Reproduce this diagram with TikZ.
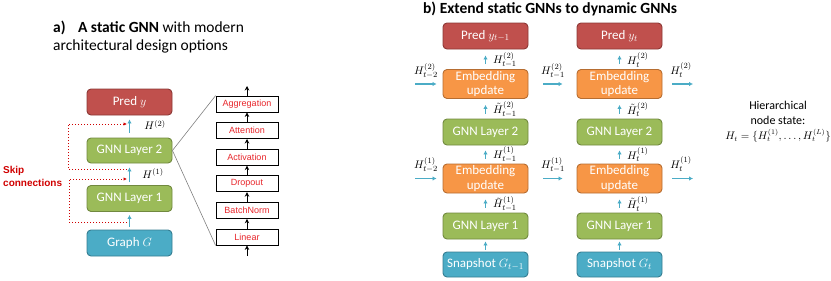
\documentclass[tikz,border=0pt]{standalone}
\usepackage{fontspec}
\setmainfont{Carlito}
\newfontfamily\arialfont{Liberation Sans}
\usetikzlibrary{arrows.meta,calc}
\definecolor{predred}{HTML}{C0504D}
\definecolor{predredd}{HTML}{8C3836}
\definecolor{ggreen}{HTML}{9BBB59}
\definecolor{ggreend}{HTML}{71893F}
\definecolor{oorange}{HTML}{F79646}
\definecolor{oorranged}{HTML}{B66D31}
\definecolor{tteal}{HTML}{4BACC6}
\definecolor{ttealed}{HTML}{357D91}
\definecolor{arrcyan}{HTML}{4BACC6}
\definecolor{skipred}{HTML}{D00000}
\definecolor{layred}{HTML}{E8262B}
\begin{document}
\begin{tikzpicture}[x=1pt,y=-1pt,
  box/.style={rounded corners=4pt, line width=0.9pt, minimum width=85pt, text=white,
    font=\fontsize{13}{14.5}\selectfont, inner sep=0pt, align=center},
  predbox/.style={box, fill=predred, draw=predredd, minimum height=26pt},
  greenbox/.style={box, fill=ggreen, draw=ggreend, minimum height=26pt},
  orangebox/.style={box, fill=oorange, draw=oorranged, minimum height=29pt},
  tealbox/.style={box, fill=tteal, draw=ttealed, minimum height=26pt},
  layerbox/.style={draw=black, line width=0.8pt, fill=white, minimum width=62pt, minimum height=16pt,
    inner sep=0pt, text=layred, font=\arialfont\fontsize{9}{10}\selectfont},
  cyanarr/.style={draw=arrcyan, line width=1.2pt, -{Latex[length=4pt,width=4.5pt]}},
  blkarr/.style={draw=black, line width=0.8pt, -{Stealth[length=4.5pt,width=4.5pt]}},
  skiparr/.style={draw=skipred, line width=1pt, dotted, -{Latex[length=3.5pt,width=3.5pt]}},
  lbl/.style={font=\fontsize{11}{12}\selectfont, inner sep=0pt},
  ttl/.style={font=\fontsize{15.5}{18}\selectfont, inner sep=0pt, anchor=base west},
]
\useasboundingbox (0,0) rectangle (831,281);

% ---------- titles ----------
\node[ttl] (titleA1) at (53,32) {\textbf{a)}\hspace{0.8em}\textbf{A static GNN} with modern};
\node[ttl] (titleA2) at (53,50) {architectural design options};
\node[ttl, anchor=base] (titleB) at (550,13) {\textbf{b) Extend static GNNs to dynamic GNNs}};

% ---------- panel a ----------
\node[predbox] (pred) at (129.5,102) {Pred $y$};
\node[greenbox, minimum height=25pt] (lgnn2) at (129.5,150.5) {GNN Layer 2};
\node[greenbox] (lgnn1) at (129.5,198.5) {GNN Layer 1};
\node[tealbox] (graph) at (129.5,243) {Graph $G$};

\draw[cyanarr, shorten <=5pt, shorten >=4pt] (lgnn2.north) -- (pred.south);
\draw[cyanarr, shorten <=3pt, shorten >=4pt] (lgnn1.north) -- (lgnn2.south);
\draw[cyanarr, shorten <=3pt, shorten >=3pt] (graph.north) -- (lgnn1.south);

\node[lbl] (lh2) at (155,125) {$H^{(2)}$};
\node[lbl] (lh1) at (153,173.5) {$H^{(1)}$};

\coordinate (s1s) at (127,169);
\coordinate (s1e) at (127,124);
\coordinate (s2s) at (127,222);
\coordinate (s2e) at (127,179);
\draw[skiparr] (s1s) -- (68,169) |- (s1e);
\draw[skiparr] (s2s) -- (69,222) |- (s2e);

\node[anchor=west, align=left, inner sep=0pt, text=skipred, font=\arialfont\bfseries\fontsize{10}{13}\selectfont] (skiplbl) at (3,176.5) {Skip\\connections};

% layer stack
\node[layerbox] (agg) at (247,104) {Aggregation};
\node[layerbox] (att) at (247,130.6) {Attention};
\node[layerbox] (act) at (247,157.2) {Activation};
\node[layerbox] (drop) at (247,183.8) {Dropout};
\node[layerbox] (bn) at (247,210.4) {BatchNorm};
\node[layerbox] (lin) at (247,237) {Linear};
\coordinate (linin) at (247,256);
\coordinate (aggout) at (247,86);
\draw[blkarr] (linin) -- (lin.south);
\draw[blkarr] (lin.north) -- (bn.south);
\draw[blkarr] (bn.north) -- (drop.south);
\draw[blkarr] (drop.north) -- (act.south);
\draw[blkarr] (act.north) -- (att.south);
\draw[blkarr] (att.north) -- (agg.south);
\draw[blkarr] (agg.north) -- (aggout);
\draw[gray, line width=0.6pt] (lgnn2.east) -- (agg.north west);
\draw[gray, line width=0.6pt] (lgnn2.east) -- (lin.south west);

% ---------- panel b ----------
% column t-1
\node[predbox] (pred1) at (485.5,36) {Pred $y_{t-1}$};
\node[orangebox] (emb21) at (485.5,84) {Embedding\\update};
\node[greenbox] (gnn21) at (485.5,132) {GNN Layer 2};
\node[orangebox] (emb11) at (485.5,178.5) {Embedding\\update};
\node[greenbox] (gnn11) at (485.5,226) {GNN Layer 1};
\node[tealbox, minimum height=25pt] (snap1) at (485.5,264.5) {Snapshot $G_{t-1}$};
% column t
\node[predbox] (pred2) at (619.5,36) {Pred $y_{t}$};
\node[orangebox] (emb22) at (619.5,84) {Embedding\\update};
\node[greenbox] (gnn22) at (619.5,132) {GNN Layer 2};
\node[orangebox] (emb12) at (619.5,178.5) {Embedding\\update};
\node[greenbox] (gnn12) at (619.5,226) {GNN Layer 1};
\node[tealbox, minimum height=25pt] (snap2) at (619.5,264.5) {Snapshot $G_{t}$};

% vertical arrows
\draw[cyanarr, shorten <=5pt, shorten >=6pt] (emb21.north) -- (pred1.south);
\draw[cyanarr, shorten <=5pt, shorten >=6pt] (gnn21.north) -- (emb21.south);
\draw[cyanarr, shorten <=5pt, shorten >=5pt] (emb11.north) -- (gnn21.south);
\draw[cyanarr, shorten <=5pt, shorten >=6pt] (gnn11.north) -- (emb11.south);
\draw[cyanarr, shorten <=2pt, shorten >=2pt] (snap1.north) -- (gnn11.south);
\draw[cyanarr, shorten <=5pt, shorten >=6pt] (emb22.north) -- (pred2.south);
\draw[cyanarr, shorten <=5pt, shorten >=6pt] (gnn22.north) -- (emb22.south);
\draw[cyanarr, shorten <=5pt, shorten >=5pt] (emb12.north) -- (gnn22.south);
\draw[cyanarr, shorten <=5pt, shorten >=6pt] (gnn12.north) -- (emb12.south);
\draw[cyanarr, shorten <=2pt, shorten >=2pt] (snap2.north) -- (gnn12.south);

% vertical labels
\node[lbl, anchor=west] (v1a) at (493,60) {$H_{t-1}^{(2)}$};
\node[lbl, anchor=west] (v1b) at (493,109.5) {$\tilde{H}_{t-1}^{(2)}$};
\node[lbl, anchor=west] (v1c) at (493,154.5) {$H_{t-1}^{(1)}$};
\node[lbl, anchor=west] (v1d) at (493,204) {$\tilde{H}_{t-1}^{(1)}$};
\node[lbl, anchor=west] (v2a) at (627,60) {$H_{t}^{(2)}$};
\node[lbl, anchor=west] (v2b) at (627,109.5) {$\tilde{H}_{t}^{(2)}$};
\node[lbl, anchor=west] (v2c) at (627,154.5) {$H_{t}^{(1)}$};
\node[lbl, anchor=west] (v2d) at (627,204) {$\tilde{H}_{t}^{(1)}$};

% horizontal arrows
\coordinate (in2) at (415,84);
\coordinate (out2) at (693,84);
\coordinate (in1) at (415,178.5);
\coordinate (out1) at (693,178.5);
\draw[cyanarr, shorten >=6pt] (in2) -- (emb21);
\draw[cyanarr, shorten <=15pt, shorten >=14pt] (emb21) -- (emb22);
\draw[cyanarr, shorten <=10pt] (emb22) -- (out2);
\draw[cyanarr, shorten >=6pt] (in1) -- (emb11);
\draw[cyanarr, shorten <=15pt, shorten >=14pt] (emb11) -- (emb12);
\draw[cyanarr, shorten <=10pt] (emb12) -- (out1);

\node[lbl] (h2a) at (426,71) {$H_{t-2}^{(2)}$};
\node[lbl] (h2b) at (553,71) {$H_{t-1}^{(2)}$};
\node[lbl] (h2c) at (681,70) {$H_{t}^{(2)}$};
\node[lbl] (h1a) at (426,165) {$H_{t-2}^{(1)}$};
\node[lbl] (h1b) at (553,165) {$H_{t-1}^{(1)}$};
\node[lbl] (h1c) at (681,164) {$H_{t}^{(1)}$};

\node[lbl, align=center, font=\fontsize{12}{14.5}\selectfont] (hier) at (778,122) {Hierarchical\\node state:\\[1pt]{\fontsize{10.5}{12}\selectfont$H_t=\{H_t^{(1)},\ldots,H_t^{(L)}\}$}};
\end{tikzpicture}
\end{document}
